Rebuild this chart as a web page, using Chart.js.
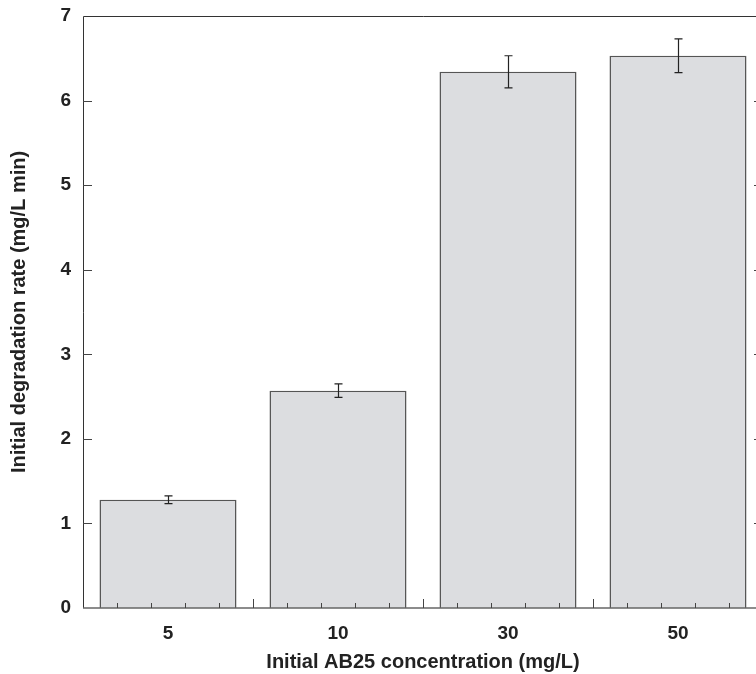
<!DOCTYPE html>
<html>
<head>
<meta charset="utf-8">
<script src="https://cdn.jsdelivr.net/npm/chart.js@4/dist/chart.umd.min.js"></script>
<style>
html,body{margin:0;padding:0;background:#fff;overflow:hidden;width:756px;height:674px;}
#wrap{width:770px;height:674px;}
</style>
</head>
<body>
<div id="wrap"><canvas id="c" width="770" height="674"></canvas></div>
<script>
const categories = ['5', '10', '30', '50'];
const rates = [1.28, 2.57, 6.34, 6.53];
const errors = [0.045, 0.08, 0.19, 0.2];
const yTicks = [0, 1, 2, 3, 4, 5, 6, 7];

const AXIS_FONT = 'Liberation Sans, Arial, Helvetica, sans-serif';

const framePlugin = {
  id: 'frame',
  afterDatasetsDraw(chart) {
    const ctx = chart.ctx;
    const x = chart.scales.x, y = chart.scales.y;
    const a = chart.chartArea;
    ctx.save();
    // error bars
    ctx.strokeStyle = '#222';
    ctx.lineWidth = 1.2;
    rates.forEach((v, i) => {
      const px = Math.round(x.getPixelForValue(i)) + 0.5;
      const yt = y.getPixelForValue(v + errors[i]);
      const yb = y.getPixelForValue(v - errors[i]);
      ctx.beginPath();
      ctx.moveTo(px, yt); ctx.lineTo(px, yb);
      ctx.moveTo(px - 4, yt); ctx.lineTo(px + 4, yt);
      ctx.moveTo(px - 4, yb); ctx.lineTo(px + 4, yb);
      ctx.stroke();
    });
    // frame
    ctx.lineWidth = 1;
    ctx.strokeStyle = '#333';
    ctx.beginPath();
    ctx.moveTo(a.left + 0.5, a.bottom); ctx.lineTo(a.left + 0.5, a.top + 0.5);
    ctx.lineTo(a.right, a.top + 0.5);
    ctx.lineTo(a.right, a.bottom);
    ctx.stroke();
    ctx.strokeStyle = '#666';
    ctx.lineWidth = 1.5;
    ctx.beginPath();
    ctx.moveTo(a.left, a.bottom); ctx.lineTo(a.right, a.bottom);
    ctx.stroke();
    // x ticks
    const cw = (a.right - a.left) / categories.length;
    ctx.strokeStyle = '#444';
    ctx.lineWidth = 1;
    categories.forEach((c, i) => {
      const left = x.getPixelForValue(i) - cw / 2;
      for (let k = 1; k <= 5; k++) {
        const px = Math.round(left + cw * k / 5) + 0.5;
        const len = (k === 5) ? 9 : 5;
        ctx.beginPath();
        ctx.moveTo(px, a.bottom); ctx.lineTo(px, a.bottom - len);
        ctx.stroke();
      }
    });
    // y ticks both sides
    yTicks.forEach(t => {
      if (t === 0 || t === 7) return;
      const py = Math.round(y.getPixelForValue(t)) + 0.5;
      ctx.beginPath();
      ctx.moveTo(a.left, py); ctx.lineTo(a.left + 9, py);
      ctx.moveTo(a.right, py); ctx.lineTo(a.right - 9, py);
      ctx.stroke();
    });
    ctx.restore();
  }
};

new Chart(document.getElementById('c'), {
  type: 'bar',
  data: {
    labels: categories,
    datasets: [{
      data: rates,
      backgroundColor: '#dcdde0',
      borderColor: '#555',
      borderWidth: 1.5,
      barPercentage: 0.806,
      categoryPercentage: 1
    }]
  },
  options: {
    responsive: false,
    animation: false,
    devicePixelRatio: 1,
    layout: { padding: { left: 0, top: 16, right: 7, bottom: 0 } },
    plugins: { legend: { display: false }, tooltip: { enabled: false } },
    scales: {
      x: {
        grid: { display: false, drawTicks: false },
        border: { display: false },
        ticks: { color: '#222', padding: 14, font: { family: AXIS_FONT, size: 19, weight: 'bold' } },
        title: { display: true, text: 'Initial AB25 concentration (mg/L)', color: '#222',
                 padding: { top: 0, bottom: 0 }, font: { family: AXIS_FONT, size: 20, weight: 'bold' } },
        afterFit(s) { s.height = 66; s.paddingLeft = 0; s.paddingRight = 0; }
      },
      y: {
        min: 0, max: 7,
        afterBuildTicks(s) { s.ticks = yTicks.map(v => ({ value: v })); },
        grid: { display: false, drawTicks: false },
        border: { display: false },
        ticks: { color: '#222', padding: 12, font: { family: AXIS_FONT, size: 19, weight: 'bold' } },
        title: { display: true, text: 'Initial degradation rate (mg/L min)', color: '#222',
                 padding: { top: 7, bottom: 0 }, font: { family: AXIS_FONT, size: 20, weight: 'bold' } },
        afterFit(s) { s.width = 83; s.paddingTop = 0; s.paddingBottom = 0; }
      }
    }
  },
  plugins: [framePlugin]
});
</script>
</body>
</html>
